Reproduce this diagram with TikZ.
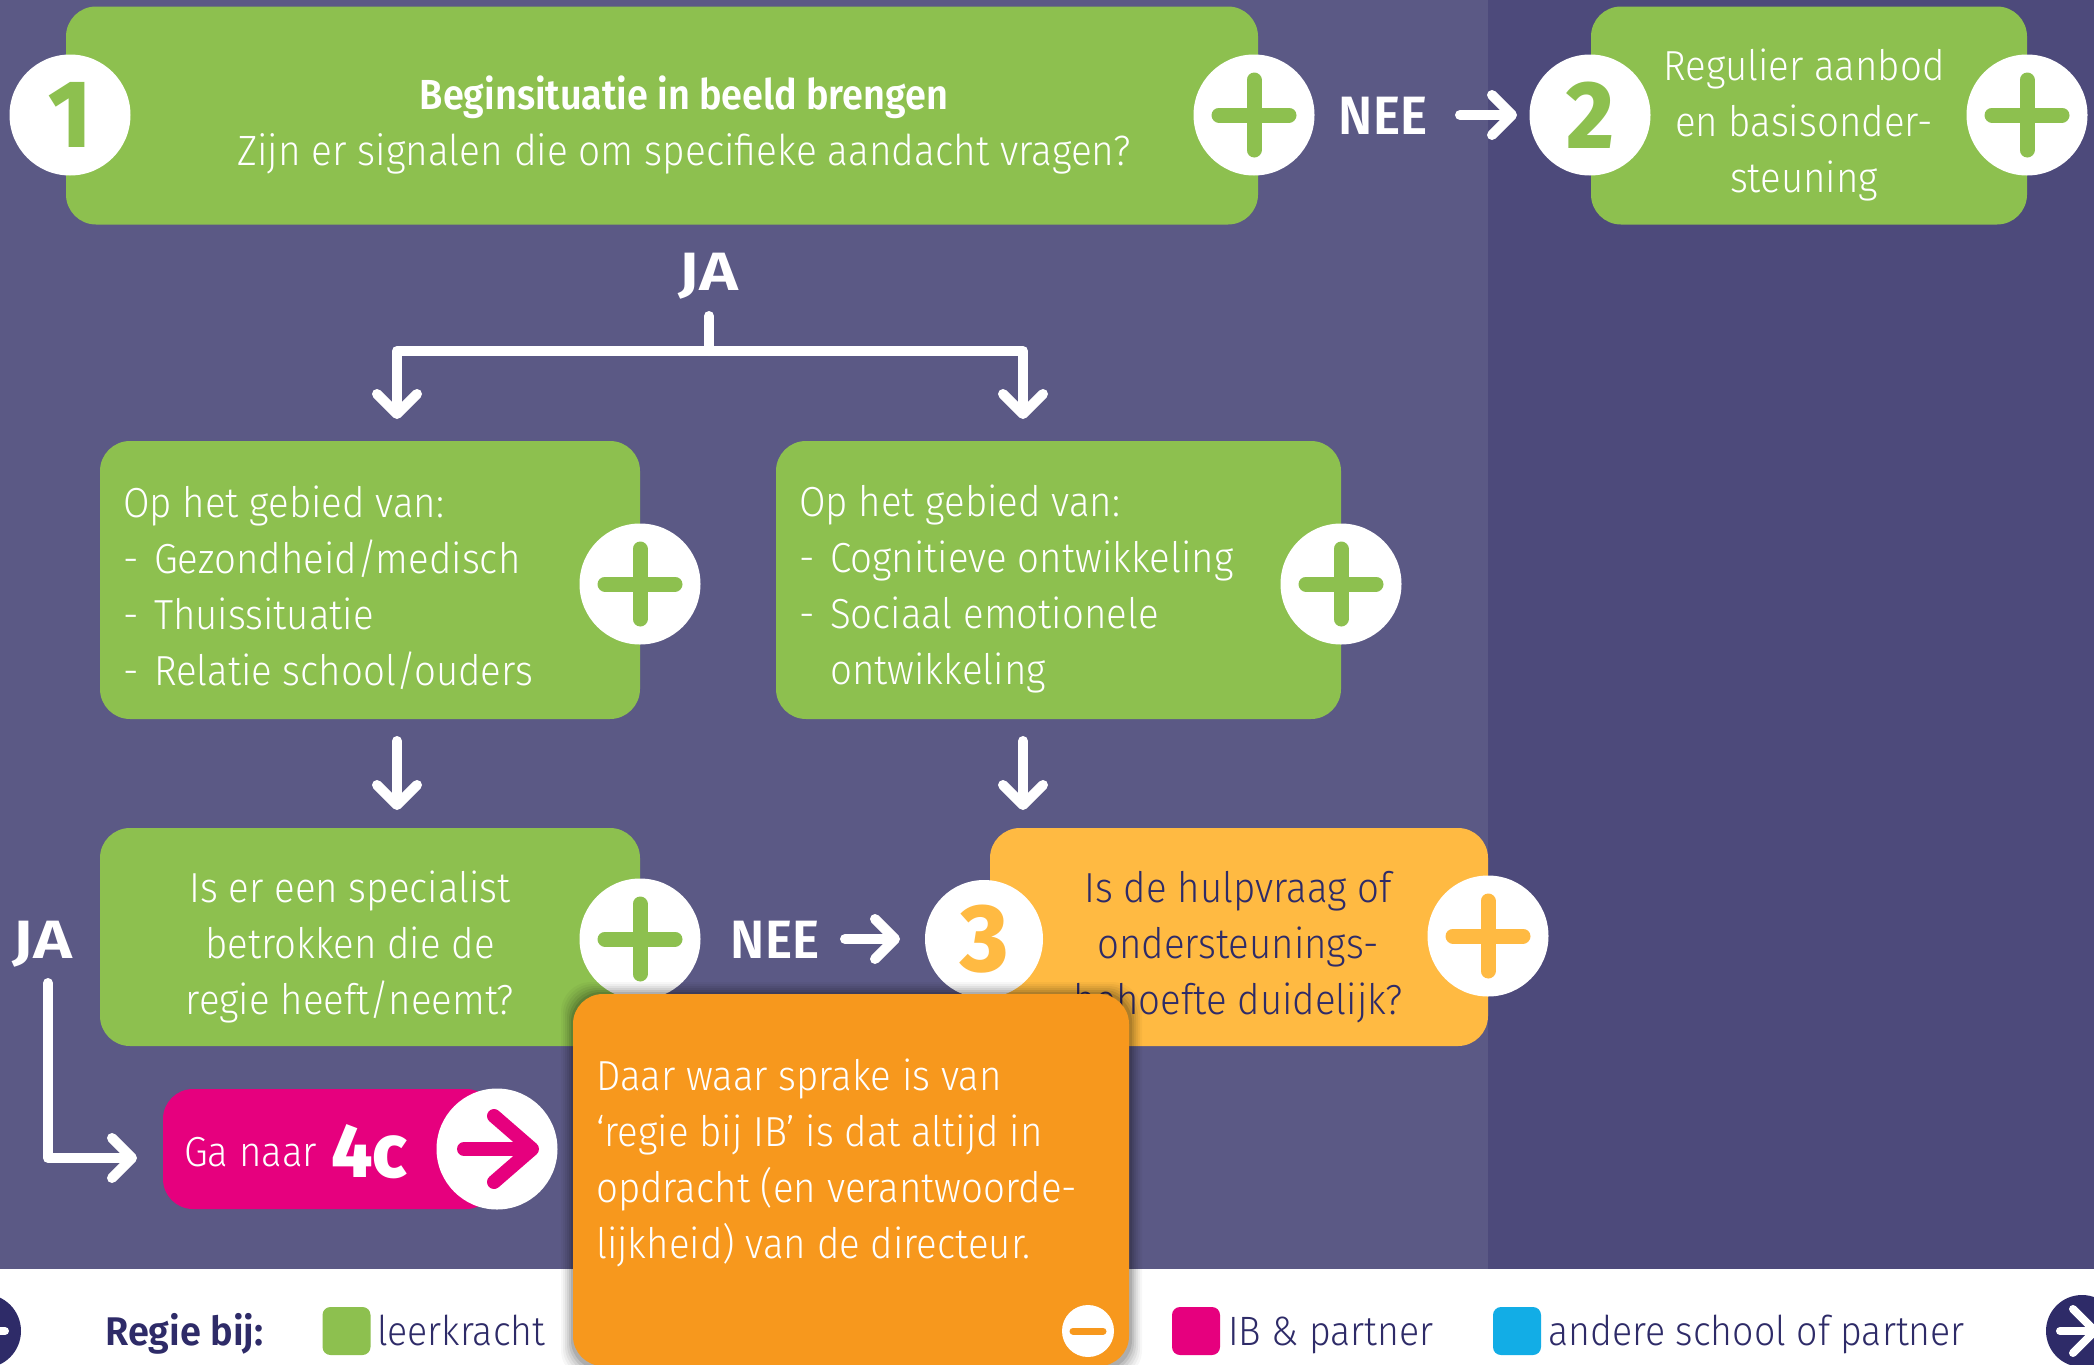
\documentclass[tikz,border=0pt]{standalone}
\usepackage{fontspec}
\setmainfont[FakeStretch=0.915,UprightFont=* Light,BoldFont=*]{Fira Sans}
\newfontfamily\labfont[FakeStretch=0.95]{Fira Sans SemiBold}
\newfontfamily\titlefont[FakeStretch=0.9]{Fira Sans SemiBold}
\newfontfamily\numfont[FakeStretch=0.95]{Fira Sans ExtraBold}
\usetikzlibrary{arrows.meta}
\definecolor{bgA}{HTML}{5B5985}
\definecolor{bgB}{HTML}{4D4A7B}
\definecolor{grn}{HTML}{8DC04F}
\definecolor{ylw}{HTML}{FFBA42}
\definecolor{org}{HTML}{F7981D}
\definecolor{pnk}{HTML}{E6007E}
\definecolor{blu}{HTML}{12ADE6}
\definecolor{nvy}{HTML}{2E2B68}
\tikzset{
  x=1pt,y=-1pt,
  boxbase/.style={rounded corners=30pt,minimum width=#1,inner sep=0pt,outer sep=0pt},
  gbox/.style={boxbase=#1,fill=grn},
  ybox/.style={boxbase=#1,fill=ylw},
  badge/.style={circle,fill=white,minimum size=#1,inner sep=0pt,outer sep=0pt},
  body/.style={font=\fontsize{42}{56}\selectfont,text=white,inner sep=0pt},
  ctext/.style={body,align=center},
  ltext/.style={body,align=left,anchor=west},
  lab/.style={font=\fontsize{54}{60}\selectfont\labfont,text=white,inner sep=0pt},
  num/.style={font=\fontsize{96}{96}\selectfont\numfont,inner sep=0pt},
  flow/.style={draw=white,line width=10pt,line cap=round,line join=round},
  flowtip/.style={flow,-{Straight Barb[round,length=20pt,width=40pt]}},
  sq/.style={rounded corners=8pt,minimum size=48pt,inner sep=0pt,outer sep=0pt},
  leg/.style={font=\fontsize{41}{48}\selectfont,text=nvy,inner sep=0pt,anchor=base west},
  badgearm/.style={line width=15pt,line cap=round}
}
\newcommand{\plusbadge}[3]{%
  \node[badge=121pt] (#1) at (#2) {};
  \draw[badgearm,draw=#3] ([xshift=-35pt]#1.center) -- ([xshift=35pt]#1.center);
  \draw[badgearm,draw=#3] ([yshift=-35pt]#1.center) -- ([yshift=35pt]#1.center);
}
\newcommand{\ind}[1]{\makebox[31pt][l]{-}#1}
\begin{document}
\begin{tikzpicture}
\clip (0,0) rectangle (2094,1365);
\fill[white] (0,0) rectangle (2094,1365);
\fill[bgA] (0,0) rectangle (1488,1269);
\fill[bgB] (1488,0) rectangle (2094,1269);

% row 1
\node[gbox=1192pt,minimum height=218pt] (box1) at (662,115.5) {};
\node[badge=121pt] (n1) at (70,115) {};
\node[num,text=grn] at (n1) {1};
\node[ctext] (t1) at (684,125) {{\titlefont Beginsituatie in beeld brengen}\\\fontsize{42.4}{56}\selectfont Zijn er signalen die om specifieke aandacht vragen?};
\plusbadge{p1}{1254,115}{grn}
\node[lab] (nee1) at (1383,116) {NEE};
\node[gbox=436pt,minimum height=218pt] (box2) at (1809,115.5) {};
\node[badge=121pt] (n2) at (1590,115) {};
\node[num,text=grn] at (n2) {2};
\node[ctext] (t2) at (1804,125) {Regulier aanbod\\en basisonder-\\steuning};
\plusbadge{p2}{2027,115}{grn}
\coordinate (e1s) at (1460,115);
\coordinate (e1e) at (1517,115);
\draw[flowtip] (e1s) -- (e1e);

% JA branch
\node[lab] (ja1) at (709,276) {\scalebox{1.3}[1]{JA}};
\coordinate (stem) at (709,316);
\coordinate (jct) at (709,351);
\coordinate (a3) at (397,419);
\coordinate (a4) at (1023,419);
\draw[flow] (stem) -- (jct);
\draw[flowtip] (jct) -| (a3);
\draw[flowtip] (jct) -| (a4);

% row 2
\node[gbox=540pt,minimum height=278pt] (box3) at (370,580) {};
\node[ltext] (t3) at (123,588) {Op het gebied van:\\\ind{Gezondheid/medisch}\\\ind{Thuissituatie}\\\ind{Relatie school/ouders}};
\plusbadge{p3}{640,584}{grn}
\node[gbox=565pt,minimum height=278pt] (box4) at (1058.5,580) {};
\node[ltext] (t4) at (799,589) {Op het gebied van:\\\ind{Cognitieve ontwikkeling}\\\ind{Sociaal emotionele}\\\hspace*{31pt}ontwikkeling};
\plusbadge{p4}{1341,584}{grn}
\coordinate (b3s) at (397,741);
\coordinate (b3e) at (397,810);
\coordinate (b4s) at (1023,741);
\coordinate (b4e) at (1023,810);
\draw[flowtip] (b3s) -- (b3e);
\draw[flowtip] (b4s) -- (b4e);

% row 3
\node[gbox=540pt,minimum height=218pt] (box5) at (370,937) {};
\node[ctext] (t5) at (350,947) {Is er een specialist\\betrokken die de\\regie heeft/neemt?};
\plusbadge{p5}{640,939}{grn}
\node[lab] (nee2) at (775,940) {NEE};
\coordinate (e2s) at (845,939);
\coordinate (e2e) at (900,939);
\draw[flowtip] (e2s) -- (e2e);
\node[ybox=498pt,minimum height=218pt] (box6) at (1239,937) {};
\node[badge=118pt] (n3) at (984,939) {};
\node[num,text=ylw] at (n3) {3};
\node[ctext,text=nvy] (t6) at (1238,947) {Is de hulpvraag of\\ondersteunings-\\behoefte duidelijk?};
\plusbadge{p6}{1488,936}{ylw}

% JA to pink
\node[lab] (ja2) at (43,944) {\scalebox{1.3}[1]{JA}};
\coordinate (j2s) at (48,983);
\coordinate (j2c) at (48,1158);
\coordinate (j2e) at (137,1158);
\draw[flowtip] (j2s) -- (j2c) -- (j2e);
\node[boxbase=333pt,minimum height=120pt,fill=pnk] (go) at (329.5,1149) {};
\node[inner sep=0pt,text=white,anchor=base west,font=\fontsize{42}{44}\selectfont] (gat) at (184,1166) {Ga naar};
\node[inner sep=0pt,text=white,anchor=base west,font=\fontsize{76}{80}\selectfont\numfont] (got) at (331,1177) {4c};
\node[badge=121pt] (gob) at (497,1149) {};
\coordinate (ga) at ([xshift=-33pt]gob.center);
\coordinate (gb) at ([xshift=42pt]gob.center);
\draw[draw=pnk,line width=14pt,line cap=round,line join=round,-{Straight Barb[round,length=38pt,width=66pt]}] (ga) -- (gb);

% legend
\node[leg,font=\fontsize{40}{48}\selectfont\labfont] (rb) at (105,1345) {Regie bij:};
\node[sq,fill=grn] (sq1) at (346.5,1331) {};
\node[leg] (l1) at (377,1345) {leerkracht};
\node[sq,fill=pnk] (sq2) at (1196,1331) {};
\node[leg] (l2) at (1228,1345) {IB \& partner};
\node[sq,fill=blu] (sq3) at (1517,1331) {};
\node[leg] (l3) at (1548,1345) {andere school of partner};
\node[circle,fill=nvy,minimum size=74pt,inner sep=0pt] (navL) at (-16,1331) {};
\node[circle,fill=nvy,minimum size=72pt,inner sep=0pt] (navR) at (2082,1331) {};
\coordinate (nr1) at ([xshift=-22pt]navR.center);
\coordinate (nr2) at ([xshift=17pt]navR.center);
\draw[draw=white,line width=8pt,line cap=round,line join=round,-{Straight Barb[round,length=22pt,width=44pt]}] (nr1) -- (nr2);
\coordinate (nl1) at ([xshift=-26pt]navL.center);
\coordinate (nl2) at ([xshift=21pt]navL.center);
\draw[draw=white,line width=8pt,line cap=round] (nl1) -- (nl2);

% popup
\foreach \s/\o in {12/0.03,10/0.04,8/0.05,6/0.06,4/0.08,2/0.10}{
  \fill[black,opacity=\o,rounded corners=30pt] (573-\s,994-\s) rectangle (1130+\s,1368+\s);
}
\node[boxbase=556pt,minimum height=372pt,fill=org] (pop) at (851,1180) {};
\node[ltext] (tp) at (596,1163) {Daar waar sprake is van\\‘regie bij IB’ is dat altijd in\\opdracht (en verantwoorde-\\lijkheid) van de directeur.};
\node[badge=52pt] (pm) at (1088,1331) {};
\draw[line width=7pt,line cap=round,draw=org] ([xshift=-15pt]pm.center) -- ([xshift=15pt]pm.center);
\end{tikzpicture}
\end{document}
